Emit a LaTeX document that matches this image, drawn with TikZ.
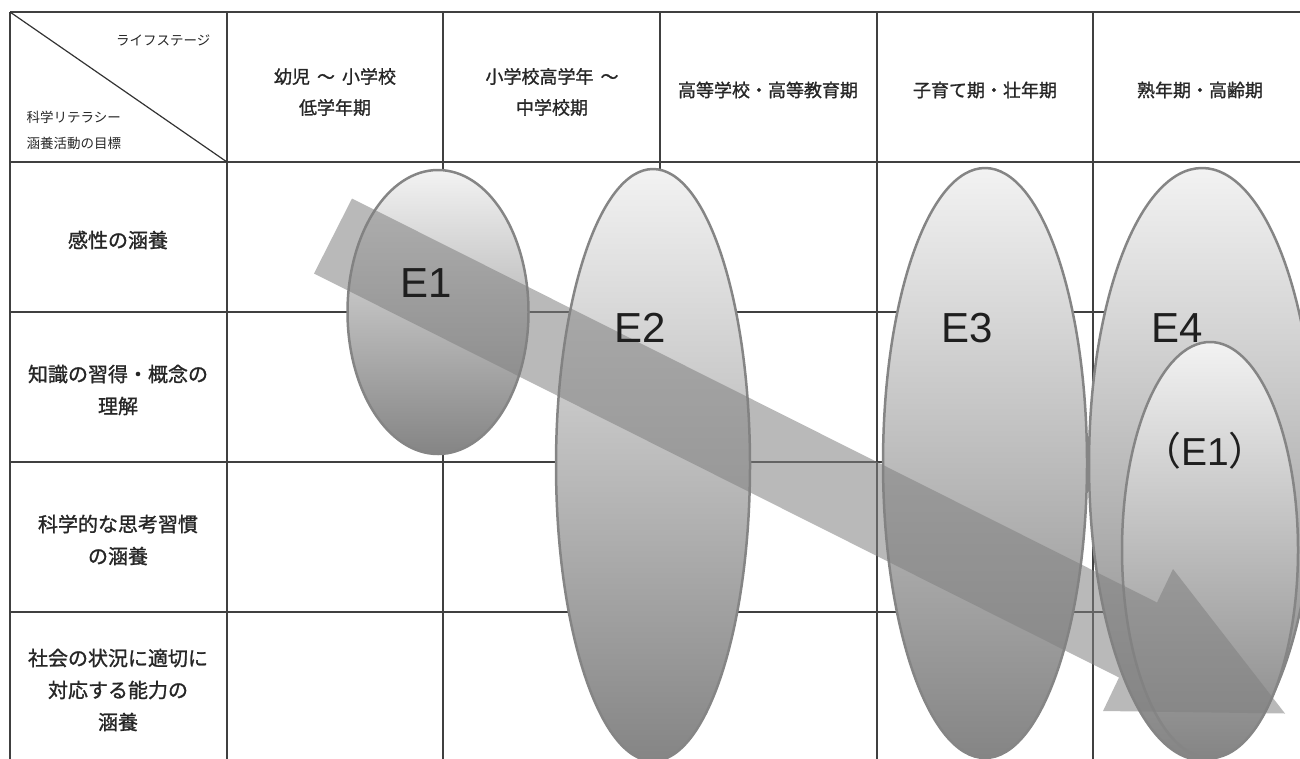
\documentclass[tikz,border=0pt]{standalone}
\usepackage{fontspec}
\setmainfont{Liberation Sans}
\newfontfamily\jpfont{Noto Sans CJK JP}
\newfontfamily\jpbold{Noto Sans CJK JP}[FakeBold=1.2]
\usepackage{tikz}
\usetikzlibrary{positioning, shapes.geometric}

\begin{document}
\begin{tikzpicture}[x=1pt, y=-1pt,
    grid/.style={draw=black!75, line width=1.4pt},
    stagehead/.style={font=\jpbold\fontsize{18}{31}\selectfont, align=center, text=black!85},
    goal/.style={font=\jpbold\fontsize{20}{32}\selectfont, align=center, text=black!85},
    corner/.style={font=\jpfont\fontsize{13.5}{16}\selectfont, text=black!85},
    phase/.style={ellipse, draw=black!48, line width=2.5pt, top color=black!5,
                  bottom color=black!48, inner sep=0pt},
    elabel/.style={font=\fontsize{42}{42}\selectfont, text=black!88},
    flow/.style={fill=black!50, opacity=0.55}
]
    \useasboundingbox (0,0) rectangle (1300,758);
    \clip (0,0) rectangle (1300,758);

    % === Table grid ===
    \foreach \y in {12,162,312,462,612}
        \draw[grid] (10,\y) -- (1310,\y);
    \foreach \x in {10,227,443,660,877,1093}
        \draw[grid] (\x,12) -- (\x,770);
    \draw[line width=1.2pt, draw=black!80] (10,12) -- (227,162);

    % === Corner cell ===
    \node[corner, anchor=east] (lstage) at (214,40) {ライフステージ};
    \node[corner, anchor=west] (lit1) at (23,117) {科学リテラシー};
    \node[corner, anchor=west] (lit2) at (23,143) {涵養活動の目標};

    % === Life stages ===
    \node[stagehead] (h1) at (335,92) {幼児 \,〜\, 小学校\\低学年期};
    \node[stagehead] (h2) at (552,92) {小学校高学年 \,〜\\中学校期};
    \node[stagehead] (h3) at (768,90) {高等学校・高等教育期};
    \node[stagehead] (h4) at (985,90) {子育て期・壮年期};
    \node[stagehead] (h5) at (1200,90) {熟年期・高齢期};

    % === Goals ===
    \node[goal] (g1) at (118,240) {感性の涵養};
    \node[goal] (g2) at (118,390) {知識の習得・概念の\\理解};
    \node[goal] (g3) at (118,540) {科学的な思考習慣\\の涵養};
    \node[goal] (g4) at (118,690) {社会の状況に適切に\\対応する能力の\\涵養};

    % === Activity ellipses ===
    \node[phase, minimum width=181pt, minimum height=284pt] (e1) at (438,312) {};
    \node[phase, minimum width=194pt, minimum height=592pt] (e2) at (653,465) {};
    \node[phase, minimum width=204pt, minimum height=590pt] (e3) at (985,463) {};
    \node[phase, minimum width=226pt, minimum height=592pt] (e4) at (1202,464) {};
    \node[phase, minimum width=176pt, minimum height=416pt] (e1b) at (1210,550) {};

    % === Flow arrow ===
    \fill[flow] (352,198.5) -- (1157,602.5) -- (1173,569) -- (1285,713.5)
        -- (1103,711) -- (1119,677.5) -- (314,273.5) -- cycle;

    % === Labels ===
    \node[elabel] (l1) at (426,283) {E1};
    \node[elabel] (l2) at (640,328) {E2};
    \node[elabel] (l3) at (967,328) {E3};
    \node[elabel] (l4) at (1177,328) {E4};
    \node[elabel, font=\fontsize{39}{39}\selectfont] (l1b) at (1205,451)
        {{\jpfont （}E1{\jpfont ）}};

\end{tikzpicture}
\end{document}
